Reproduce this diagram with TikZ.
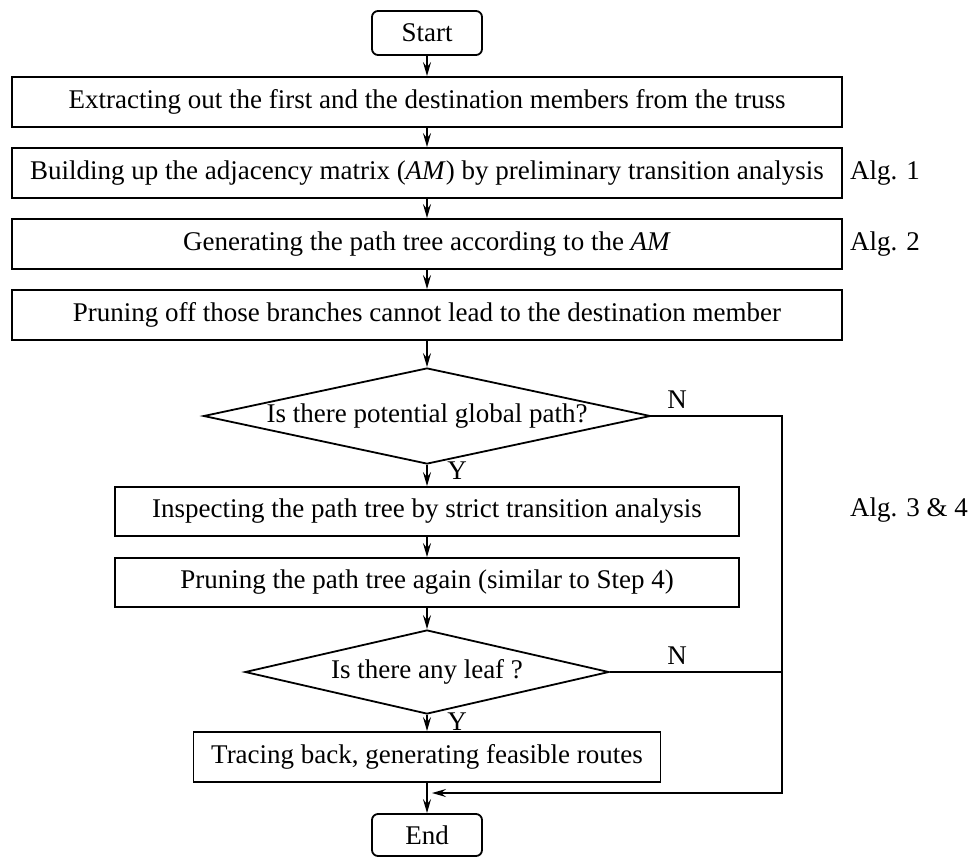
\documentclass[tikz,border=0pt]{standalone}
\usepackage{fontspec}
\setmainfont{Liberation Serif}
\usetikzlibrary{arrows.meta,shapes.geometric}

\begin{document}
\begin{tikzpicture}[x=1pt,y=-1pt,
  every node/.style={font=\fontsize{27}{32}\selectfont, inner sep=0pt},
  box/.style={draw, line width=1.8pt, rectangle, minimum height=50pt},
  wide/.style={box, minimum width=830pt},
  term/.style={draw, line width=1.8pt, rounded corners=6pt, minimum width=110pt, minimum height=44pt},
  decide/.style={draw, line width=1.8pt, diamond},
  flow/.style={line width=1.8pt, -{Stealth[length=14pt,width=8pt,inset=5pt]}},
  link/.style={line width=1.8pt},
  lab/.style={anchor=west}
]
\useasboundingbox (0,0) rectangle (971,857);

% main column
\node[term] (start) at (427,33) {Start};
\node[wide] (s1) at (427,102) {Extracting out the first and the destination members from the truss};
\node[wide] (s2) at (427,173) {Building up the adjacency matrix (\textit{AM}) by preliminary transition analysis};
\node[wide] (s3) at (427,244) {Generating the path tree according to the \textit{AM}};
\node[wide] (s4) at (427,315) {Pruning off those branches cannot lead to the destination member};
\node[decide, minimum width=447pt, minimum height=96pt,
      label=center:{Is there potential global path?}] (q1) at (427,416) {};
\node[box, minimum width=624pt, minimum height=49pt] (s5) at (427,511.5) {Inspecting the path tree by strict transition analysis};
\node[box, minimum width=624pt, minimum height=49pt] (s6) at (427,582.5) {Pruning the path tree again (similar to Step 4)};
\node[decide, minimum width=364pt, minimum height=84pt,
      label=center:{Is there any leaf ?}] (q2) at (427,672) {};
\node[box, minimum width=467pt, minimum height=50pt] (s7) at (427,757) {Tracing back, generating feasible routes};
\node[term, minimum height=42pt] (end) at (427,835) {End};

% side notes
\node[lab] (a1) at (850,173) {Alg. 1};
\node[lab] (a2) at (850,244) {Alg. 2};
\node[lab] (a34) at (850,510) {Alg. 3 \& 4};

% branch labels
\node (y1) at (457,471) {Y};
\node (n1) at (677,400) {N};
\node (y2) at (457,722) {Y};
\node (n2) at (677,656) {N};

% return rail
\coordinate (ret) at (782,793);
\coordinate (join) at (432,793);

\draw[flow] (start) -- (s1);
\draw[flow] (s1) -- (s2);
\draw[flow] (s2) -- (s3);
\draw[flow] (s3) -- (s4);
\draw[flow] (s4) -- (q1);
\draw[flow] (q1) -- (s5);
\draw[flow] (s5) -- (s6);
\draw[flow] (s6) -- (q2);
\draw[flow] (q2) -- (s7);
\draw[flow] (s7) -- (end);
\draw[flow] (q1.east) -- (q1.east -| ret) -- (ret) -- (join);
\draw[link] (q2.east) -- (q2.east -| ret);
\end{tikzpicture}
\end{document}
